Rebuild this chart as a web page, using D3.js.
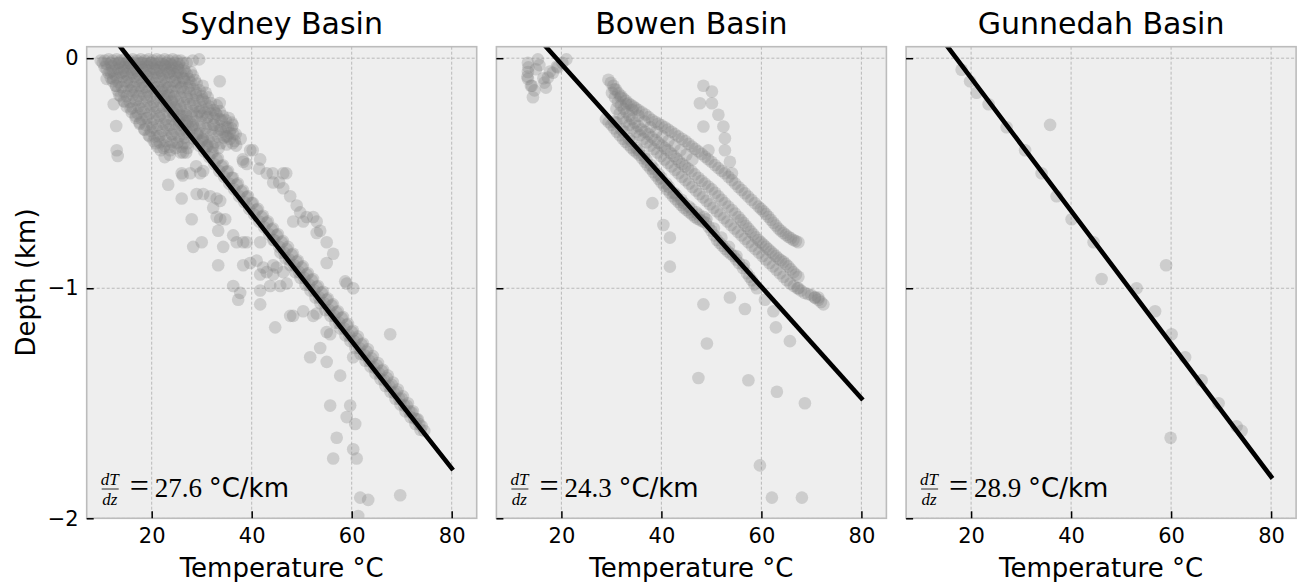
<!DOCTYPE html>
<html>
<head>
<meta charset="utf-8">
<script src="https://cdnjs.cloudflare.com/ajax/libs/d3/7.8.5/d3.min.js"></script>
<style>
  body { margin: 0; background: #ffffff; }
  svg { display: block; }
</style>
</head>
<body>
<div id="chart"></div>
<script>

// Temperature (degC) / depth (km) pairs

var sydneyPoints = [
  // surface readings
  [9.8,-0.01],[10.6,-0.01],[11.4,-0.005],[12.2,-0.01],[13.0,-0.005],[13.8,-0.01],[14.6,-0.005],[15.4,-0.01],
  [16.2,-0.005],[17.0,-0.01],[17.8,-0.005],[18.6,-0.01],[19.4,-0.005],[20.2,-0.01],[21.0,-0.005],[21.8,-0.01],
  [22.6,-0.005],[23.4,-0.01],[24.2,-0.005],[25.0,-0.01],[25.8,-0.01],[28.2,-0.01],[29.5,-0.005],
  [10.2,-0.02],[11.0,-0.025],[11.8,-0.02],[12.6,-0.025],[13.4,-0.02],[14.2,-0.025],[15.0,-0.02],[15.8,-0.025],
  [16.6,-0.02],[17.4,-0.025],[18.2,-0.02],[19.0,-0.025],[19.8,-0.02],[20.6,-0.025],[21.4,-0.02],[22.2,-0.025],
  [23.0,-0.02],[23.8,-0.025],[24.6,-0.02],[25.4,-0.025],[26.2,-0.02],[27.0,-0.02],
  [10.6,-0.04],[12.0,-0.035],[13.2,-0.045],[14.4,-0.04],[15.6,-0.035],[16.8,-0.045],[18.0,-0.04],[19.2,-0.035],
  [20.4,-0.045],[21.6,-0.04],[22.8,-0.035],[24.0,-0.045],[25.2,-0.04],[26.4,-0.045],
  // shallow wells
  [11.0,-0.05],[12.2,-0.055],[13.4,-0.05],[14.6,-0.055],[15.8,-0.05],[17.0,-0.055],[18.2,-0.05],[19.4,-0.055],
  [20.6,-0.05],[21.8,-0.055],[23.0,-0.05],[24.2,-0.055],[25.4,-0.05],[26.6,-0.055],[27.8,-0.06],
  [11.4,-0.065],[12.6,-0.07],[13.8,-0.065],[15.0,-0.07],[16.2,-0.065],[17.4,-0.07],[18.6,-0.065],[19.8,-0.07],
  [21.0,-0.065],[22.2,-0.07],[23.4,-0.065],[24.6,-0.07],[25.8,-0.065],[27.0,-0.07],[28.2,-0.075],
  [11.8,-0.085],[13.0,-0.085],[14.2,-0.08],[15.4,-0.085],[16.6,-0.08],[17.8,-0.085],[19.0,-0.08],[20.2,-0.085],
  [21.4,-0.08],[22.6,-0.085],[23.8,-0.08],[25.0,-0.085],[26.2,-0.085],[27.4,-0.09],[28.6,-0.095],
  [12.2,-0.10],[13.4,-0.105],[14.6,-0.10],[15.8,-0.105],[17.0,-0.10],[18.2,-0.105],[19.4,-0.10],[20.6,-0.105],
  [21.8,-0.10],[23.0,-0.105],[24.2,-0.10],[25.4,-0.105],[26.6,-0.10],[27.8,-0.105],[29.0,-0.11],[30.2,-0.12],
  [12.8,-0.12],[14.0,-0.125],[15.2,-0.12],[16.4,-0.125],[17.6,-0.12],[18.8,-0.125],[20.0,-0.12],[21.2,-0.125],
  [22.4,-0.12],[23.6,-0.125],[24.8,-0.12],[26.0,-0.125],[27.2,-0.13],[28.4,-0.135],[29.6,-0.14],[30.8,-0.15],
  [13.2,-0.14],[14.4,-0.145],[15.6,-0.14],[16.8,-0.145],[18.0,-0.14],[19.2,-0.145],[20.4,-0.14],[21.6,-0.145],
  [22.8,-0.14],[24.0,-0.145],[25.2,-0.14],[26.4,-0.145],[27.6,-0.15],[28.8,-0.16],[30.0,-0.165],[31.2,-0.17],
  [13.8,-0.165],[15.0,-0.165],[16.2,-0.16],[17.4,-0.165],[18.6,-0.16],[19.8,-0.165],[21.0,-0.16],[22.2,-0.165],
  [23.4,-0.16],[24.6,-0.165],[25.8,-0.17],[27.0,-0.175],[28.2,-0.18],[29.4,-0.185],[30.6,-0.19],[31.8,-0.195],
  [33.0,-0.205],
  [14.4,-0.185],[15.6,-0.19],[16.8,-0.185],[18.0,-0.19],[19.2,-0.185],[20.4,-0.19],[21.6,-0.185],[22.8,-0.19],
  [24.0,-0.185],[25.2,-0.19],[26.4,-0.195],[27.6,-0.2],[28.8,-0.21],[30.0,-0.215],[31.2,-0.22],[32.4,-0.225],
  [33.6,-0.23],
  [15.0,-0.21],[16.2,-0.215],[17.4,-0.21],[18.6,-0.215],[19.8,-0.21],[21.0,-0.215],[22.2,-0.21],[23.4,-0.215],
  [24.6,-0.215],[25.8,-0.22],[27.0,-0.225],[28.2,-0.23],[29.4,-0.235],[30.6,-0.235],[31.8,-0.24],[33.0,-0.245],
  [34.2,-0.25],[35.4,-0.26],
  [16.0,-0.235],[17.2,-0.24],[18.4,-0.235],[19.6,-0.24],[20.8,-0.235],[22.0,-0.24],[23.2,-0.235],[24.4,-0.24],
  [25.6,-0.245],[26.8,-0.245],[28.0,-0.25],[29.0,-0.25],[30.0,-0.25],[31.2,-0.255],[32.4,-0.26],[33.6,-0.265],
  [34.8,-0.27],[36.0,-0.28],
  [16.8,-0.26],[18.0,-0.265],[19.2,-0.26],[20.4,-0.265],[21.6,-0.26],[22.8,-0.265],[24.0,-0.265],[25.2,-0.27],
  [26.4,-0.27],[27.6,-0.275],[28.8,-0.275],[30.0,-0.28],[31.2,-0.285],[32.4,-0.29],[33.6,-0.295],[34.8,-0.30],
  [36.0,-0.305],
  [17.6,-0.285],[18.8,-0.29],[20.0,-0.285],[21.2,-0.29],[22.4,-0.285],[23.6,-0.29],[24.8,-0.285],[26.0,-0.29],
  [27.2,-0.295],[28.4,-0.30],[29.6,-0.30],[30.8,-0.305],[32.0,-0.31],[33.2,-0.315],[34.4,-0.32],[35.6,-0.325],
  [36.8,-0.33],
  [18.6,-0.31],[19.8,-0.315],[21.0,-0.31],[22.2,-0.315],[23.4,-0.31],[24.6,-0.315],[25.8,-0.315],[27.0,-0.32],
  [29.6,-0.325],[30.8,-0.33],[32.0,-0.335],[33.2,-0.34],[34.4,-0.345],[35.6,-0.35],
  [19.4,-0.335],[20.6,-0.34],[21.8,-0.335],[23.0,-0.34],[24.2,-0.335],[25.4,-0.34],[26.6,-0.345],[29.0,-0.35],
  [30.2,-0.355],[31.4,-0.36],[32.6,-0.365],[33.8,-0.37],[35.0,-0.375],[36.2,-0.37],
  [20.4,-0.36],[21.6,-0.365],[22.8,-0.36],[24.0,-0.365],[25.2,-0.365],[26.4,-0.37],[31.0,-0.38],[32.2,-0.385],
  [33.4,-0.39],
  [21.2,-0.385],[22.4,-0.39],[23.6,-0.385],[24.8,-0.39],[26.0,-0.385],[27.2,-0.39],
  [11.8,-0.06],[12.3,-0.09],[12.9,-0.12],[13.5,-0.16],[14.6,-0.19],[15.8,-0.22],[16.8,-0.25],[17.6,-0.28],
  [18.5,-0.31],[19.6,-0.34],[20.8,-0.37],[21.8,-0.40],[22.6,-0.43],
  [13.5,-0.02],[14.2,-0.06],[15.0,-0.10],[15.9,-0.14],[16.9,-0.18],[17.9,-0.22],[19.0,-0.26],[20.2,-0.30],
  [21.4,-0.34],[22.6,-0.38],[23.6,-0.42],
  [15.5,-0.02],[16.2,-0.05],[17.1,-0.09],[18.0,-0.13],[19.1,-0.17],[20.3,-0.21],[21.5,-0.25],[22.8,-0.29],
  [24.0,-0.33],[25.0,-0.37],[25.8,-0.41],
  [17.8,-0.02],[18.6,-0.05],[19.5,-0.09],[20.6,-0.13],[21.8,-0.17],[23.0,-0.21],[24.3,-0.25],[25.5,-0.29],
  [26.5,-0.33],[27.2,-0.37],
  [20.0,-0.02],[21.0,-0.05],[22.0,-0.09],[23.2,-0.13],[24.5,-0.17],[25.8,-0.21],[27.0,-0.25],[28.2,-0.29],
  [29.2,-0.33],
  [22.5,-0.03],[23.5,-0.06],[24.6,-0.10],[25.8,-0.13],[27.0,-0.17],[28.3,-0.20],[29.6,-0.23],[31.0,-0.26],
  [32.4,-0.29],[33.8,-0.31],[35.2,-0.34],[36.6,-0.36],[37.8,-0.35],
  [24.0,-0.03],[25.2,-0.06],[26.4,-0.09],[27.6,-0.12],[28.9,-0.15],[30.2,-0.18],[31.5,-0.21],[32.8,-0.24],
  [34.0,-0.27],[35.2,-0.30],[36.3,-0.33],
  [11.0,-0.09],[12.4,-0.20],[12.9,-0.295],[13.0,-0.40],[13.2,-0.425],[33.6,-0.10],[33.6,-0.195],
  [23.7,-0.40],[26.3,-0.41],[26.9,-0.41],[36.2,-0.29],[34.9,-0.34],[36.9,-0.38],
  // deep well along the fit
  [22,-0.14],[23,-0.165],[24,-0.19],[25,-0.22],[26,-0.25],[27,-0.275],[28,-0.30],[29,-0.33],[30,-0.36],
  [31,-0.385],[32,-0.41],[33,-0.44],[34,-0.47],[35,-0.495],[36,-0.52],[37,-0.55],[38,-0.58],[39,-0.605],
  [40,-0.63],[41,-0.66],[42,-0.69],[43,-0.715],[44,-0.745],[45,-0.77],[46,-0.80],[47,-0.83],[48,-0.855],
  [49,-0.885],[50,-0.91],[51,-0.94],[52,-0.965],[53,-0.995],[54,-1.02],[55,-1.05],[56,-1.075],[57,-1.105],
  [58,-1.13],[59,-1.16],[60,-1.19],[61,-1.22],[62,-1.245],[63,-1.275],[64,-1.305],[65,-1.335],[66,-1.36],
  [67,-1.39],[68,-1.42],[69,-1.45],[70,-1.48],[71,-1.51],[72,-1.54],[73,-1.57],[74,-1.60],
  [22.5,-0.18],[23.5,-0.21],[24.5,-0.24],[25.5,-0.265],[26.5,-0.295],[27.5,-0.32],[28.5,-0.35],[29.5,-0.38],
  [30.5,-0.405],[31.5,-0.43],[32.5,-0.46],[33.5,-0.49],[34.5,-0.515],[35.5,-0.545],[36.5,-0.57],[37.5,-0.60],
  [38.5,-0.625],[39.5,-0.655],[40.5,-0.68],[41.5,-0.71],[42.5,-0.735],[43.5,-0.765],[44.5,-0.79],[45.5,-0.82],
  [46.5,-0.845],[47.5,-0.875],[48.5,-0.90],[49.5,-0.93],[50.5,-0.955],[51.5,-0.985],[52.5,-1.01],[53.5,-1.04],
  [54.5,-1.065],[55.5,-1.095],[56.5,-1.12],[57.5,-1.15],[58.5,-1.175],[59.5,-1.205],[60.5,-1.23],[61.5,-1.26],
  [62.5,-1.29],[63.5,-1.315],[64.5,-1.345],[65.5,-1.37],[66.5,-1.40],[67.5,-1.425],[68.5,-1.455],[69.5,-1.48],
  [70.5,-1.51],[71.5,-1.535],[72.5,-1.565],[73.5,-1.59],[74.5,-1.62],
  [45.75,-0.845],[46.75,-0.87],[47.75,-0.90],[48.75,-0.93],[49.75,-0.955],[50.75,-0.985],[51.75,-1.01],
  [52.75,-1.04],[53.75,-1.065],[54.75,-1.095],[55.75,-1.12],[56.75,-1.15],[57.75,-1.175],[58.75,-1.205],
  [59.75,-1.23],[60.75,-1.26],[61.75,-1.285],[62.75,-1.315],[63.75,-1.34],[64.75,-1.37],[65.75,-1.395],
  [66.75,-1.425],[67.75,-1.45],[68.75,-1.48],[69.75,-1.505],[70.75,-1.535],[71.75,-1.56],[72.75,-1.59],
  [73.75,-1.615],
  [30.25,-0.35],[31.25,-0.38],[32.25,-0.41],[33.25,-0.435],[34.25,-0.465],[35.25,-0.49],[36.25,-0.52],
  [37.25,-0.545],[38.25,-0.575],[39.25,-0.60],[40.25,-0.63],[41.25,-0.655],[42.25,-0.685],[43.25,-0.71],
  [44.25,-0.74],[45.25,-0.765],[46.25,-0.795],[47.25,-0.82],[48.25,-0.85],[49.25,-0.88],[50.25,-0.905],
  [51.25,-0.935],[52.25,-0.96],[53.25,-0.99],[54.25,-1.015],[55.25,-1.045],[56.25,-1.07],[57.25,-1.10],
  [58.25,-1.125],[59.25,-1.155],[60.25,-1.185],[61.25,-1.21],[62.25,-1.24],[63.25,-1.265],[64.25,-1.295],
  [65.25,-1.325],[66.25,-1.355],[67.25,-1.38],[68.25,-1.41],[69.25,-1.44],[70.25,-1.47],[71.25,-1.50],
  [72.25,-1.535],[73.25,-1.57],
  // scattered wells
  [39.7,-0.40],[41.7,-0.44],[39.0,-0.46],[38.2,-0.44],[40.2,-0.40],[41.5,-0.48],[44.2,-0.50],[45.5,-0.54],
  [46.9,-0.50],[38.3,-0.45],[43.0,-0.50],[46.3,-0.50],[44.3,-0.54],[46.3,-0.565],[47.7,-0.60],[49.0,-0.64],
  [49.7,-0.67],[52.3,-0.69],[53.0,-0.71],[48.3,-0.71],[50.3,-0.71],[51.0,-0.69],[53.7,-0.75],[53.0,-0.76],
  [55.0,-0.80],[56.3,-0.85],[55.0,-0.89],[58.7,-0.97],[59.0,-0.98],[60.3,-1.0],
  [23.3,-0.55],[26.0,-0.61],[26.2,-0.51],[26.0,-0.50],[27.7,-0.50],[28.9,-0.47],[29.7,-0.50],[30.3,-0.49],
  [28.0,-0.70],[28.3,-0.82],[30.0,-0.80],[29.0,-0.59],[30.3,-0.59],[31.7,-0.60],[33.0,-0.61],[33.7,-0.62],
  [32.3,-0.65],[33.0,-0.69],[33.7,-0.70],[34.7,-0.70],[33.3,-0.75],[34.3,-0.82],[36.3,-0.77],[37.0,-0.80],
  [38.3,-0.80],[39.0,-0.80],[41.7,-0.80],[44.3,-0.79],
  [33.3,-0.90],[38.3,-0.90],[39.7,-0.89],[41.0,-0.88],[42.3,-0.91],[43.0,-0.93],[44.3,-0.90],[45.0,-0.91],
  [46.3,-0.93],[41.7,-0.94],[44.3,-0.94],
  [36.3,-0.99],[37.3,-1.05],[37.7,-1.02],[41.7,-1.01],[41.7,-1.07],[43.7,-0.99],[45.7,-0.99],[47.0,-0.98],
  [47.7,-1.12],[48.3,-1.12],[50.3,-1.10],[52.3,-1.12],[53.0,-1.11],[44.7,-1.17],[55.0,-1.19],[55.7,-1.20],
  [53.7,-1.26],[51.7,-1.30],[55.0,-1.32],[57.7,-1.38],[67.7,-1.20],[60.3,-1.30],
  [55.7,-1.51],[59.7,-1.51],[59.0,-1.56],[60.7,-1.59],[57.0,-1.65],[56.3,-1.74],[60.3,-1.70],[61.0,-1.74],
  [61.7,-1.91],[63.3,-1.92],[69.7,-1.90],[61.3,-1.99]
];

var bowenPoints = [
  [13.3,-0.02],[15.3,-0.005],[15.6,-0.03],[14.9,-0.048],[13.4,-0.04],[13.3,-0.06],[13.2,-0.08],[13.3,-0.09],
  [13.9,-0.12],[14.1,-0.12],[14.6,-0.14],[14.3,-0.17],[16.9,-0.128],[16.6,-0.106],[16.4,-0.087],[17.3,-0.084],
  [17.7,-0.058],[18.3,-0.063],[19.1,-0.036],[19.3,-0.04],[21.0,-0.005],[20.2,-0.02],
  [29.4,-0.094],[30.4,-0.12],[31.4,-0.152],[32.4,-0.175],[33.4,-0.196],[34.4,-0.21],[35.4,-0.225],[36.8,-0.245],
  [38.1,-0.268],[39.4,-0.285],[40.7,-0.30],[42.0,-0.32],[43.4,-0.34],[44.8,-0.36],[46.1,-0.384],[47.4,-0.405],
  [48.7,-0.428],[50.0,-0.45],[51.4,-0.478],[52.7,-0.50],[54.1,-0.53],[55.4,-0.56],[56.7,-0.587],[58.0,-0.615],
  [59.4,-0.645],[60.4,-0.665],[61.4,-0.689],[62.4,-0.715],[63.4,-0.74],[64.4,-0.76],[65.4,-0.776],[66.4,-0.79],
  [67.4,-0.80],
  [29.9,-0.107],[30.9,-0.136],[31.9,-0.163],[32.9,-0.185],[33.9,-0.203],[34.9,-0.218],[36.1,-0.235],
  [37.45,-0.256],[38.75,-0.276],[40.05,-0.292],[41.35,-0.31],[42.7,-0.33],[44.1,-0.35],[45.45,-0.372],
  [46.75,-0.394],[48.05,-0.416],[49.35,-0.439],[50.7,-0.464],[52.05,-0.489],[53.4,-0.515],[54.75,-0.545],
  [56.05,-0.573],[57.35,-0.601],[58.7,-0.63],[59.9,-0.655],[60.9,-0.677],[61.9,-0.702],[62.9,-0.727],
  [63.9,-0.75],[64.9,-0.768],[65.9,-0.783],[66.9,-0.795],
  [30.6,-0.135],[31.8,-0.17],[33.0,-0.20],[34.2,-0.225],[35.4,-0.25],[36.6,-0.275],[37.8,-0.30],[39.0,-0.32],
  [40.2,-0.34],[41.4,-0.36],[42.6,-0.38],[43.8,-0.40],[45.0,-0.42],[46.2,-0.44],
  [30.1,-0.15],[31.3,-0.19],[32.5,-0.22],[33.6,-0.25],[34.7,-0.28],[36.0,-0.31],[37.4,-0.33],[38.7,-0.355],
  [40.1,-0.38],[41.3,-0.40],[42.5,-0.425],[43.6,-0.45],[44.7,-0.47],[46.0,-0.49],[47.4,-0.52],[48.7,-0.545],
  [50.1,-0.57],[51.4,-0.60],[52.7,-0.63],[54.1,-0.66],[55.4,-0.69],[56.4,-0.715],[57.4,-0.74],[58.4,-0.765],
  [59.4,-0.79],[60.4,-0.81],[61.4,-0.83],[62.4,-0.85],[63.4,-0.87],[64.4,-0.885],[65.4,-0.905],[66.4,-0.93],
  [67.4,-0.95],
  [30.7,-0.17],[31.9,-0.205],[33.05,-0.235],[34.15,-0.265],[35.35,-0.295],[36.7,-0.32],[38.05,-0.343],
  [39.4,-0.368],[40.7,-0.39],[41.9,-0.413],[43.05,-0.437],[44.15,-0.46],[45.35,-0.48],[46.7,-0.505],
  [48.05,-0.533],[49.4,-0.558],[50.75,-0.585],[52.05,-0.615],[53.4,-0.645],[54.75,-0.675],[55.9,-0.703],
  [56.9,-0.728],[57.9,-0.753],[58.9,-0.778],[59.9,-0.80],[60.9,-0.82],[61.9,-0.84],[62.9,-0.86],[63.9,-0.878],
  [64.9,-0.895],[65.9,-0.918],[66.9,-0.94],
  [31.0,-0.22],[32.3,-0.26],[33.6,-0.29],[35.0,-0.32],[36.4,-0.35],[37.8,-0.38],[39.2,-0.41],[40.6,-0.44],
  [42.0,-0.47],[43.4,-0.50],[44.8,-0.53],[46.2,-0.56],[47.6,-0.59],[49.0,-0.62],[50.4,-0.65],[51.8,-0.68],
  [53.2,-0.71],[54.6,-0.74],[56.0,-0.77],[57.4,-0.80],[58.8,-0.83],[60.2,-0.86],[61.6,-0.89],[63.0,-0.92],
  [64.4,-0.95],[65.8,-0.98],[67.2,-1.0],[68.6,-1.02],[70.0,-1.03],[71.4,-1.05],[72.4,-1.07],
  [31.65,-0.24],[32.95,-0.275],[34.3,-0.305],[35.7,-0.335],[37.1,-0.365],[38.5,-0.395],[39.9,-0.425],
  [41.3,-0.455],[42.7,-0.485],[44.1,-0.515],[45.5,-0.545],[46.9,-0.575],[48.3,-0.605],[49.7,-0.635],
  [51.1,-0.665],[52.5,-0.695],[53.9,-0.725],[55.3,-0.755],[56.7,-0.785],[58.1,-0.815],[59.5,-0.845],
  [60.9,-0.875],[62.3,-0.905],[63.7,-0.935],[65.1,-0.965],[66.5,-0.99],[67.9,-1.01],[69.3,-1.025],
  [70.7,-1.04],[71.9,-1.06],
  [28.9,-0.265],[30.0,-0.29],[31.1,-0.32],[32.3,-0.35],[33.4,-0.375],[34.5,-0.40],[35.6,-0.42],[36.7,-0.45],
  [37.8,-0.48],[38.9,-0.51],[40.0,-0.54],[41.1,-0.57],[42.3,-0.60],[43.4,-0.625],[44.5,-0.65],[45.6,-0.67],
  [46.7,-0.69],[47.8,-0.705],[48.9,-0.715],[50.0,-0.75],[51.1,-0.79],[52.2,-0.815],[53.3,-0.84],[54.4,-0.86],
  [55.5,-0.89],[57.1,-0.935],[58.1,-0.965],[59.1,-1.0],[60.7,-1.05],[62.4,-1.10],[62.9,-1.17],[65.7,-1.23],
  [29.45,-0.278],[30.55,-0.305],[31.7,-0.335],[32.85,-0.363],[33.95,-0.388],[35.05,-0.41],[36.15,-0.435],
  [37.25,-0.465],[38.35,-0.495],[39.45,-0.525],[40.55,-0.555],[41.7,-0.585],[42.85,-0.613],[43.95,-0.638],
  [45.05,-0.66],[46.15,-0.68],[47.25,-0.698],[48.35,-0.71],[49.45,-0.733],[50.55,-0.77],[51.65,-0.803],
  [52.75,-0.828],[53.85,-0.85],[54.95,-0.875],[56.3,-0.912],[57.6,-0.95],[58.6,-0.983],
  [30.5,-0.275],[32.0,-0.31],[33.5,-0.35],[35.0,-0.39],[36.5,-0.425],[38.0,-0.465],[39.5,-0.505],[41.0,-0.545],
  [42.5,-0.585],[44.0,-0.615],[45.5,-0.645],[47.0,-0.67],[48.5,-0.69],
  [31.0,-0.28],[32.5,-0.32],[34.0,-0.36],[35.5,-0.40],[37.0,-0.44],[38.5,-0.48],[40.0,-0.52],[41.5,-0.56],
  [43.0,-0.595],[44.5,-0.63],[46.0,-0.655],[47.5,-0.68],[49.0,-0.70],[50.5,-0.74],[52.0,-0.78],[53.5,-0.82],
  [55.0,-0.86],[56.5,-0.90],
  [48.4,-0.12],[50.1,-0.145],[47.7,-0.196],[50.1,-0.196],[51.4,-0.246],[52.4,-0.297],[52.7,-0.348],[52.7,-0.40],
  [53.7,-0.45],[54.1,-0.50],[48.4,-0.297],[49.4,-0.40],
  [38.2,-0.63],[40.4,-0.725],[41.7,-0.78],[41.7,-0.906],[53.7,-1.04],[48.4,-1.07],[56.7,-1.09],[49.1,-1.24],
  [47.4,-1.39],[57.4,-1.40],[63.1,-1.45],[68.7,-1.50],[59.7,-1.77],[62.1,-1.91],[68.1,-1.91],
  [67.4,-1.0],[70.7,-1.04],[71.4,-1.04]
];

var gunnedahPoints = [
  [18.1,-0.05],[19.8,-0.10],[21.1,-0.15],[23.5,-0.20],[27.1,-0.30],[35.8,-0.29],[30.8,-0.40],[34.1,-0.50],
  [37.1,-0.60],[40.1,-0.70],[44.5,-0.80],[46.1,-0.96],[59.0,-0.90],[53.1,-1.0],[56.8,-1.10],[60.1,-1.20],
  [62.8,-1.30],[66.1,-1.40],[69.5,-1.50],[73.1,-1.60],[74.1,-1.62],[59.9,-1.65]
];

// Fitted gradient lines: [temperature, depth] at the two ends
var sydneyFit = [[13.7, 0.05], [80, -1.783]];
var bowenFit = [[16.9, 0.05], [80, -1.478]];
var gunnedahFit = [[15.3, 0.05], [80, -1.819]];

var basinNames = ["Sydney Basin", "Bowen Basin", "Gunnedah Basin"];
var gradients = ["27.6", "24.3", "28.9"];
var tempTicks = [20, 40, 60, 80];
var depthTicks = [0, -1, -2];

var panels = [
  { name: basinNames[0], points: sydneyPoints, fit: sydneyFit, gradient: gradients[0] },
  { name: basinNames[1], points: bowenPoints, fit: bowenFit, gradient: gradients[1] },
  { name: basinNames[2], points: gunnedahPoints, fit: gunnedahFit, gradient: gradients[2] }
];

var width = 1300,
    height = 582,
    plotTop = 46.7,
    plotLeft = 86.7,
    plotWidth = 390,
    plotHeight = 471.6,
    panelStep = 409.7;

var font = "DejaVu Sans, sans-serif",
    mathFont = "Liberation Serif, DejaVu Serif, serif";

var xScale = d3.scaleLinear()
    .domain([7, 85])
    .range([0, plotWidth]);

var yScale = d3.scaleLinear()
    .domain([-2, 0.05])
    .range([plotHeight, 0]);

var svg = d3.select("#chart").append("svg")
    .attr("width", width)
    .attr("height", height);

svg.append("rect")
    .attr("width", width)
    .attr("height", height)
    .attr("fill", "#ffffff");

panels.forEach(function(p, i) {

  var g = svg.append("g")
      .attr("transform", "translate(" + (plotLeft + i * panelStep) + "," + plotTop + ")");

  g.append("clipPath")
      .attr("id", "clip" + i)
    .append("rect")
      .attr("width", plotWidth)
      .attr("height", plotHeight);

  g.append("rect")
      .attr("width", plotWidth)
      .attr("height", plotHeight)
      .attr("fill", "#eeeeee");

  // dashed grid under the data

  g.append("g")
    .selectAll("line")
      .data(tempTicks)
    .enter().append("line")
      .attr("x1", function(d) { return xScale(d); })
      .attr("x2", function(d) { return xScale(d); })
      .attr("y1", 0)
      .attr("y2", plotHeight)
      .attr("stroke", "#b2b2b2")
      .attr("stroke-width", 0.9)
      .attr("stroke-dasharray", "3,2");

  g.append("g")
    .selectAll("line")
      .data(depthTicks)
    .enter().append("line")
      .attr("x1", 0)
      .attr("x2", plotWidth)
      .attr("y1", function(d) { return yScale(d); })
      .attr("y2", function(d) { return yScale(d); })
      .attr("stroke", "#b2b2b2")
      .attr("stroke-width", 0.9)
      .attr("stroke-dasharray", "3,2");

  var data = g.append("g")
      .attr("clip-path", "url(#clip" + i + ")");

  data.selectAll("circle")
      .data(p.points)
    .enter().append("circle")
      .attr("cx", function(d) { return xScale(d[0]); })
      .attr("cy", function(d) { return yScale(d[1]); })
      .attr("r", 6.3)
      .attr("fill", "#808080")
      .attr("fill-opacity", 0.3);

  data.append("path")
      .datum(p.fit)
      .attr("d", d3.line()
          .x(function(d) { return xScale(d[0]); })
          .y(function(d) { return yScale(d[1]); }))
      .attr("fill", "none")
      .attr("stroke", "#000000")
      .attr("stroke-width", 4.6)
      .attr("stroke-linecap", "square");

  // frame

  g.append("rect")
      .attr("width", plotWidth)
      .attr("height", plotHeight)
      .attr("fill", "none")
      .attr("stroke", "#bcbcbc")
      .attr("stroke-width", 1.6);

  // axes with inward ticks

  var xAxis = g.append("g")
      .attr("transform", "translate(0," + plotHeight + ")")
      .call(d3.axisBottom(xScale)
          .tickValues(tempTicks)
          .tickSizeInner(-7)
          .tickSizeOuter(0)
          .tickPadding(10));

  var yAxis = g.append("g")
      .call(d3.axisLeft(yScale)
          .tickValues(depthTicks)
          .tickSizeInner(-7)
          .tickSizeOuter(0)
          .tickPadding(8)
          .tickFormat(i === 0 ? d3.format("d") : ""));

  [xAxis, yAxis].forEach(function(ax) {
    ax.select(".domain").remove();
    ax.selectAll(".tick line")
        .attr("stroke", "#000000")
        .attr("stroke-width", 1.5);
    ax.selectAll("text")
        .attr("font-family", font)
        .attr("font-size", 21)
        .attr("fill", "#000000");
  });

  // titles and labels

  g.append("text")
      .attr("x", plotWidth / 2)
      .attr("y", 34 - plotTop)
      .attr("text-anchor", "middle")
      .attr("font-family", font)
      .attr("font-size", 30)
      .text(p.name);

  g.append("text")
      .attr("x", plotWidth / 2)
      .attr("y", 577 - plotTop)
      .attr("text-anchor", "middle")
      .attr("font-family", font)
      .attr("font-size", 26)
      .text("Temperature \u00b0C");

  // gradient annotation: dT/dz = value degC/km

  var note = g.append("g")
      .attr("transform", "translate(15," + (497 - plotTop) + ")");

  note.append("text")
      .attr("x", 8)
      .attr("y", -12)
      .attr("text-anchor", "middle")
      .attr("font-family", mathFont)
      .attr("font-style", "italic")
      .attr("font-size", 17)
      .text("dT");

  note.append("line")
      .attr("x1", 0)
      .attr("x2", 17)
      .attr("y1", -8)
      .attr("y2", -8)
      .attr("stroke", "#000000")
      .attr("stroke-width", 0.8);

  note.append("text")
      .attr("x", 8)
      .attr("y", 8)
      .attr("text-anchor", "middle")
      .attr("font-family", mathFont)
      .attr("font-style", "italic")
      .attr("font-size", 17)
      .text("dz");

  note.append("text")
      .attr("x", 28)
      .attr("y", 0)
      .attr("font-family", mathFont)
      .attr("font-size", 34)
      .text("=");

  note.append("text")
      .attr("x", 53)
      .attr("y", 0)
      .attr("font-family", mathFont)
      .attr("font-size", 27)
      .text(p.gradient);

  note.append("text")
      .attr("x", 107)
      .attr("y", 0)
      .attr("font-family", font)
      .attr("font-size", 26)
      .text("\u00b0C/km");
});

svg.append("text")
    .attr("transform", "translate(35," + (plotTop + plotHeight / 2) + ") rotate(-90)")
    .attr("text-anchor", "middle")
    .attr("font-family", font)
    .attr("font-size", 26)
    .text("Depth (km)");

</script>
</body>
</html>
